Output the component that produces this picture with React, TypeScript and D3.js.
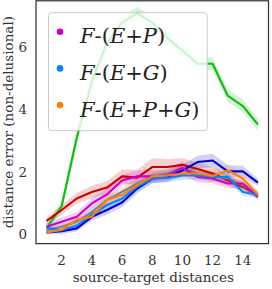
import React from "react";
import * as d3 from "d3";

const distances = [1, 2, 3, 4, 5, 6, 7, 8, 9, 10, 11, 12, 13, 14, 15];

const greenVals = [0.2, 0.9, 3.1, 4.9, 6.15, 6.8, 7.1, 6.8, 6.3, 5.9, 5.48, 5.48, 4.45, 4.12, 3.52];
const redVals = [0.43, 0.78, 1.15, 1.36, 1.5, 1.86, 1.82, 2.16, 2.16, 2.23, 2.1, 1.95, 1.73, 1.52, 1.26];
const grayVals = [0.14, 0.24, 0.4, 0.72, 1.1, 1.36, 1.63, 1.84, 1.95, 2.13, 1.95, 1.87, 1.79, 1.57, 1.28];
const darkBlueVals = [0.06, 0.1, 0.19, 0.56, 0.78, 1.02, 1.47, 1.79, 1.84, 2.05, 2.32, 2.37, 2.02, 2.02, 1.66];
const magentaVals = [0.24, 0.4, 0.56, 0.99, 1.28, 1.73, 1.86, 1.86, 1.89, 2.13, 1.84, 1.79, 1.63, 1.63, 1.2];
const lightBlueVals = [0.21, 0.13, 0.28, 0.62, 0.94, 1.15, 1.52, 1.79, 1.81, 1.89, 1.89, 1.84, 1.84, 1.36, 1.26];
const orangeVals = [0.06, 0.14, 0.46, 0.56, 1.1, 1.26, 1.57, 1.86, 1.89, 1.95, 1.95, 1.87, 2.05, 1.79, 1.28];

// half-width of the shaded confidence band, per point
const greenCi = [0.1, 0.2, 0.25, 0.25, 0.25, 0.2, 0.2, 0.2, 0.2, 0.2, 0.2, 0.2, 0.2, 0.2, 0.2];
const redCi = [0.12, 0.15, 0.18, 0.2, 0.2, 0.22, 0.25, 0.28, 0.25, 0.22, 0.2, 0.2, 0.18, 0.15, 0.12];
const grayCi = [0.08, 0.1, 0.12, 0.15, 0.15, 0.15, 0.15, 0.15, 0.15, 0.15, 0.15, 0.15, 0.12, 0.12, 0.1];
const darkBlueCi = [0.06, 0.08, 0.1, 0.12, 0.15, 0.15, 0.15, 0.15, 0.15, 0.18, 0.2, 0.22, 0.2, 0.18, 0.12];
const magentaCi = [0.12, 0.15, 0.15, 0.18, 0.18, 0.18, 0.2, 0.2, 0.18, 0.2, 0.18, 0.15, 0.15, 0.12, 0.1];
const lightBlueCi = [0.08, 0.08, 0.1, 0.12, 0.12, 0.15, 0.15, 0.15, 0.15, 0.15, 0.15, 0.15, 0.15, 0.12, 0.1];
const orangeCi = [0.06, 0.08, 0.1, 0.12, 0.15, 0.15, 0.15, 0.15, 0.15, 0.15, 0.18, 0.2, 0.2, 0.18, 0.12];

const xTicks = [2, 4, 6, 8, 10, 12, 14];
const yTicks = [0, 2, 4, 6];

type Series = { name: string | null; color: string; values: number[]; ci: number[] };

const series: Series[] = [
  { name: null, color: "#11bb11", values: greenVals, ci: greenCi },
  { name: null, color: "#cc0000", values: redVals, ci: redCi },
  { name: null, color: "#7f7f7f", values: grayVals, ci: grayCi },
  { name: null, color: "#0000cc", values: darkBlueVals, ci: darkBlueCi },
  { name: "P", color: "#cc00cc", values: magentaVals, ci: magentaCi },
  { name: "G", color: "#0a80ff", values: lightBlueVals, ci: lightBlueCi },
  { name: "P+G", color: "#ff7f0e", values: orangeVals, ci: orangeCi },
];

const width = 272;
const height = 289;
const plot = { left: 36, right: 268.5, top: 0.8, bottom: 243.6 };
const serif = "'DejaVu Serif', serif";

export default function App() {
  const x = d3.scaleLinear().domain([0.3, 15.7]).range([plot.left, plot.right]);
  const y = d3.scaleLinear().domain([-0.3, 7.5]).range([plot.bottom, plot.top]);

  const line = d3
    .line<number>()
    .x((_, i) => x(distances[i]))
    .y((d) => y(d));

  const bandFor = (s: Series) =>
    d3
      .area<number>()
      .x((_, i) => x(distances[i]))
      .y0((d, i) => y(d - s.ci[i]))
      .y1((d, i) => y(d + s.ci[i]))(s.values) ?? "";

  const legendItems = series.filter((s) => s.name !== null);

  return (
    <svg
      width={width}
      height={height}
      style={{ position: "absolute", left: 0, top: 0, background: "#fff" }}
    >
      <defs>
        <clipPath id="plot-clip">
          <rect x={plot.left} y={plot.top} width={plot.right - plot.left} height={plot.bottom - plot.top} />
        </clipPath>
      </defs>

      <g clipPath="url(#plot-clip)">
        {series.map((s, i) => (
          <path key={`band-${i}`} d={bandFor(s)} fill={s.color} fillOpacity={0.18} stroke="none" />
        ))}
        {series.map((s, i) => (
          <path
            key={`line-${i}`}
            d={line(s.values) ?? ""}
            fill="none"
            stroke={s.color}
            strokeWidth={2.1}
            strokeLinejoin="round"
          />
        ))}
      </g>

      {/* legend */}
      <rect
        x={48.5}
        y={12.7}
        width={158.8}
        height={118}
        rx={3}
        fill="#fff"
        fillOpacity={0.8}
        stroke="#cccccc"
        strokeWidth={1}
      />
      {legendItems.map((s, i) => {
        const cy = 31.7 + i * 36.7;
        const parts = s.name!.split("+");
        return (
          <g key={s.name!}>
            <circle cx={60} cy={cy} r={3.3} fill={s.color} />
            <text x={80} y={cy + 11.5} fontFamily={serif} fontSize={21} fill="#222">
              <tspan fontStyle="italic">F</tspan>
              <tspan>-(</tspan>
              <tspan fontStyle="italic">E</tspan>
              {parts.map((p, j) => (
                <React.Fragment key={j}>
                  <tspan>+</tspan>
                  <tspan fontStyle="italic">{p}</tspan>
                </React.Fragment>
              ))}
              <tspan>)</tspan>
            </text>
          </g>
        );
      })}

      {/* frame */}
      <rect
        x={plot.left}
        y={plot.top}
        width={plot.right - plot.left}
        height={plot.bottom - plot.top}
        fill="none"
        stroke="#333"
        strokeWidth={1.25}
      />

      {xTicks.map((t) => (
        <text key={`xt-${t}`} x={x(t)} y={265} textAnchor="middle" fontFamily={serif} fontSize={13.5} fill="#333">
          {t}
        </text>
      ))}
      {yTicks.map((t) => (
        <text
          key={`yt-${t}`}
          x={27}
          y={y(t)}
          dy="0.35em"
          textAnchor="end"
          fontFamily={serif}
          fontSize={13.5}
          fill="#333"
        >
          {t}
        </text>
      ))}

      <text x={(plot.left + plot.right) / 2 + 1} y={282} textAnchor="middle" fontFamily={serif} fontSize={13.5} fill="#333">
        source-target distances
      </text>
      <text
        transform={`translate(13,${(plot.top + plot.bottom) / 2}) rotate(-90)`}
        textAnchor="middle"
        fontFamily={serif}
        fontSize={13.5}
        fill="#333"
      >
        distance error (non-delusional)
      </text>
    </svg>
  );
}
